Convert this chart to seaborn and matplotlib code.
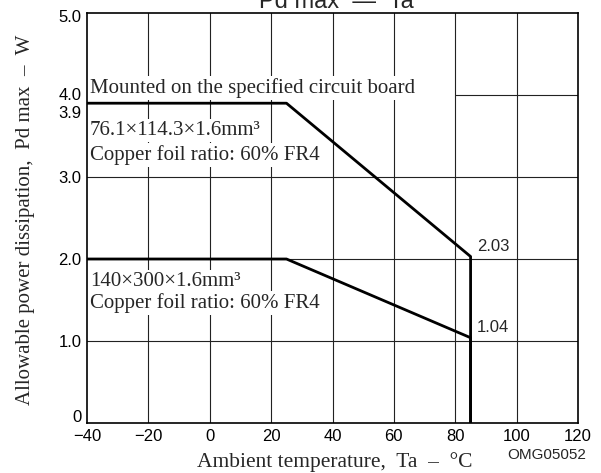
import matplotlib
matplotlib.use("Agg")
import matplotlib.pyplot as plt
import matplotlib.transforms as mtransforms
import pandas as pd
import seaborn as sns

# curve data
temp_upper = [-40, 25, 85, 85]
pd_upper = [3.9, 3.9, 2.03, 0]
temp_lower = [-40, 25, 85, 85]
pd_lower = [2.0, 2.0, 1.04, 0]

x_ticks = [-40, -20, 0, 20, 40, 60, 80, 100, 120]
x_tick_labels = ["\u221240", "\u221220", "0", "20", "40", "60", "80", "100", "120"]
y_ticks = [0, 1.0, 2.0, 3.0, 3.9, 4.0, 5.0]
y_tick_labels = ["0", "1.0", "2.0", "3.0", "3.9", "4.0", "5.0"]
x_grid = [-20, 0, 20, 40, 60, 80, 100]
y_grid = [1.0, 2.0, 3.0]

SERIF = ["Liberation Serif", "DejaVu Serif"]
SANS = ["Liberation Sans", "DejaVu Sans"]


def nudge(label, fig, dy_pt):
    label.set_transform(label.get_transform() +
                        mtransforms.ScaledTranslation(0, dy_pt / 72,
                                                      fig.dpi_scale_trans))


def main():
    sns.set_style("white")
    plt.rcParams["font.family"] = SANS

    fig = plt.figure(figsize=(6.01, 4.73), dpi=100)
    ax = fig.add_axes([0.1448, 0.1057, 0.8169, 0.8668])

    df_up = pd.DataFrame({"Ta": temp_upper, "Pd": pd_upper})
    df_lo = pd.DataFrame({"Ta": temp_lower, "Pd": pd_lower})
    for df in (df_up, df_lo):
        sns.lineplot(data=df, x="Ta", y="Pd", sort=False, estimator=None,
                     color="black", linewidth=2.0, ax=ax, zorder=4)

    # grid drawn by hand, 4.0 line only on the right part
    for gx in x_grid:
        ax.axvline(gx, color="#222222", linewidth=0.8, zorder=1)
    for gy in y_grid:
        ax.axhline(gy, color="#222222", linewidth=0.8, zorder=1)
    ax.hlines(4.0, 80, 120, color="#222222", linewidth=0.8, zorder=1)

    ax.set_xlim(-40, 120)
    ax.set_ylim(0, 5.0)
    ax.set_xticks(x_ticks)
    ax.set_xticklabels(x_tick_labels)
    ax.set_yticks(y_ticks)
    ax.set_yticklabels(y_tick_labels)
    ax.tick_params(axis="both", length=0, labelsize=12, pad=4,
                   colors="black")
    # keep the crowded y labels apart
    labels = ax.get_yticklabels()
    nudge(labels[0], fig, 5)
    nudge(labels[4], fig, -6)
    nudge(labels[5], fig, 1)
    nudge(labels[6], fig, -2)
    for s in ax.spines.values():
        s.set_visible(True)
        s.set_color("black")
        s.set_linewidth(1.2)

    ax.set_xlabel("Ambient temperature,  Ta  \u2013  \u00b0C", family=SERIF,
                  fontsize=15.5)
    ax.xaxis.set_label_coords(0.505, -0.07)
    ax.set_ylabel("Allowable power dissipation,  Pd max  \u2013  W",
                  family=SERIF, fontsize=15)
    ax.yaxis.set_label_coords(-0.105, 0.495)

    box = dict(facecolor="white", edgecolor="none", pad=1.5)
    tx = -39
    ax.text(tx, 4.08, "Mounted on the specified circuit board",
            family=SERIF, fontsize=15, va="center", bbox=box, zorder=3)
    ax.text(tx, 3.57, "76.1\u00d7114.3\u00d71.6mm\u00b3", family=SERIF,
            fontsize=15, va="center", bbox=box, zorder=3)
    ax.text(tx, 3.27, "Copper foil ratio: 60% FR4", family=SERIF,
            fontsize=15, va="center", bbox=box, zorder=3)
    ax.text(tx, 1.72, "140\u00d7300\u00d71.6mm\u00b3", family=SERIF,
            fontsize=15, va="center", bbox=box, zorder=3)
    ax.text(tx, 1.46, "Copper foil ratio: 60% FR4", family=SERIF,
            fontsize=15, va="center", bbox=box, zorder=3)

    ax.text(87.0, pd_upper[2] + 0.12, "2.03", fontsize=12, va="center")
    ax.text(87.0, pd_lower[2] + 0.12, "1.04", fontsize=12, va="center")

    fig.text(0.56, 0.983, "Pd max  \u2014  Ta", fontsize=17, ha="center",
             va="baseline")
    fig.text(0.975, 0.038, "OMG05052", fontsize=11, ha="right",
             va="center")

    fig.savefig("out.png", dpi=100)


if __name__ == "__main__":
    main()
